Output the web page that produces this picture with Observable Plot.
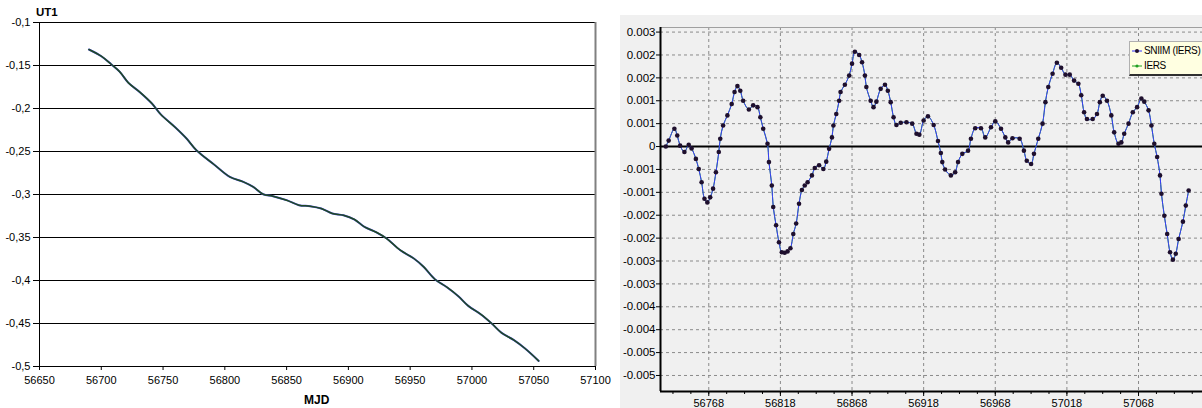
<!DOCTYPE html>
<html><head><meta charset="utf-8">
<script src="https://cdn.jsdelivr.net/npm/d3@7"></script>
<script src="https://cdn.jsdelivr.net/npm/@observablehq/plot@0.6"></script>
<style>
html,body{margin:0;padding:0;background:#fff;}
#wrap{position:relative;width:1202px;height:408px;overflow:hidden;font-family:"Liberation Sans",Arial,sans-serif;}
#left{position:absolute;left:0;top:0;}
#right{position:absolute;left:620px;top:15px;width:700px;height:420px;background:#f0f0f0;}
.lbl{position:absolute;font-weight:bold;color:#000;white-space:nowrap;}
#legend{position:absolute;left:1129px;top:41px;width:120px;height:32px;background:#ffffe1;border-left:1px solid #b0b0b0;border-top:1px solid #b0b0b0;border-bottom:2px solid #303030;font-size:10px;letter-spacing:-0.35px;}
#legend div{position:absolute;left:0;height:14px;line-height:14px;white-space:nowrap;}
#legend svg{vertical-align:middle;}
</style></head>
<body>
<div id="wrap">
  <div id="left"></div>
  <div id="right"></div>
  <div class="lbl" style="left:36px;top:6px;font-size:11.5px;">UT1</div>
  <div class="lbl" style="left:304px;top:393px;font-size:12px;">MJD</div>
  <div id="legend">
    <div style="top:2px;"><svg width="14" height="14"><line x1="2" x2="12" y1="7" y2="7" stroke="#3030ff"/><circle cx="7" cy="7" r="2" fill="#1e0f2d"/></svg>SNIIM (IERS)</div>
    <div style="top:17px;"><svg width="14" height="14"><line x1="2" x2="12" y1="7" y2="7" stroke="#20a020"/><circle cx="7" cy="7" r="1.6" fill="#20a020"/></svg>IERS</div>
  </div>
</div>
<script>
// ---- Left panel: UT1 vs MJD ----
const mjdL = [56690,56700,56708,56715,56722,56731,56741,56748,56760,56769,56777,56791,56804,56815,56823,56831,56839,56850,56860,56869,56878,56887,56896,56905,56913,56923,56931,56942,56953,56961,56970,56980,56989,56997,57007,57016,57024,57034,57043,57054];
const ut1 = [-0.1314,-0.1392,-0.1485,-0.1574,-0.1702,-0.1807,-0.1942,-0.2066,-0.2221,-0.2349,-0.2485,-0.2648,-0.2795,-0.2853,-0.2912,-0.2997,-0.3020,-0.3066,-0.3124,-0.3136,-0.3163,-0.3221,-0.3241,-0.3291,-0.3377,-0.3442,-0.3512,-0.3648,-0.3744,-0.3842,-0.3985,-0.4081,-0.4183,-0.4295,-0.4392,-0.4500,-0.4609,-0.4694,-0.4791,-0.4935];
const xTicksL = [56650,56700,56750,56800,56850,56900,56950,57000,57050,57100];
const yTicksL = [-0.5,-0.45,-0.4,-0.35,-0.3,-0.25,-0.2,-0.15,-0.1];

// ---- Right panel: difference series ----
const mjdR = [56738,56740,56744,56746,56748,56751,56754,56756,56759,56761,56763,56765,56767,56769,56771,56773,56775,56776,56778,56781,56784,56786,56788,56790,56792,56796,56799,56802,56804,56806,56809,56810,56812,56813,56815,56817,56819,56821,56823,56825,56827,56829,56831,56833,56835,56837,56840,56842,56845,56848,56850,56852,56854,56855,56857,56859,56860,56863,56866,56868,56870,56873,56875,56877,56878,56881,56883,56885,56888,56891,56893,56895,56897,56899,56902,56906,56910,56913,56915,56918,56921,56925,56928,56930,56931,56933,56937,56940,56942,56945,56949,56951,56954,56958,56961,56965,56968,56972,56975,56977,56980,56985,56988,56990,56993,56995,56998,57001,57003,57005,57008,57011,57014,57017,57020,57023,57026,57028,57030,57032,57036,57039,57041,57043,57046,57049,57051,57054,57056,57058,57061,57064,57067,57070,57072,57075,57077,57079,57081,57083,57084,57086,57088,57090,57092,57094,57096,57099,57101,57103];
const dR = [0.0000,0.00013,0.00039,0.00024,0.00002,-0.00012,0.00004,-0.00004,-0.00027,-0.00049,-0.00078,-0.00114,-0.00122,-0.00111,-0.00092,-0.00056,-0.00012,0.00017,0.00046,0.00068,0.00093,0.00119,0.00132,0.00122,0.00100,0.00081,0.00090,0.00086,0.00064,0.00039,0.00006,-0.00034,-0.00085,-0.00132,-0.00172,-0.00209,-0.00231,-0.00232,-0.00229,-0.00222,-0.00191,-0.00168,-0.00125,-0.00095,-0.00085,-0.00078,-0.00063,-0.00047,-0.00041,-0.00049,-0.00033,-0.00005,0.00020,0.00046,0.00071,0.00100,0.00119,0.00135,0.00155,0.00181,0.00207,0.00200,0.00184,0.00155,0.00130,0.00100,0.00086,0.00098,0.00126,0.00135,0.00122,0.00097,0.00064,0.00047,0.00052,0.00053,0.00050,0.00028,0.00026,0.00057,0.00066,0.00047,0.00012,-0.00014,-0.00034,-0.00050,-0.00063,-0.00056,-0.00034,-0.00016,-0.00009,0.00017,0.00040,0.00040,0.00020,0.00042,0.00055,0.00039,0.00020,0.00009,0.00018,0.00017,-0.00009,-0.00031,-0.00038,-0.00016,0.00017,0.00050,0.00097,0.00130,0.00159,0.00183,0.00172,0.00157,0.00157,0.00144,0.00137,0.00112,0.00075,0.00060,0.00060,0.00071,0.00097,0.00111,0.00100,0.00068,0.00031,0.00006,0.00009,0.00028,0.00050,0.00075,0.00086,0.00105,0.00098,0.00079,0.00046,0.00006,-0.00023,-0.00063,-0.00103,-0.00151,-0.00191,-0.00231,-0.00247,-0.00234,-0.00202,-0.00164,-0.00129,-0.00096];
const xTicksR = [56768,56818,56868,56918,56968,57018,57068];
const xMinorR = d3.range(56743, 57135, 12.5);
const yTicksR = [0.0025,0.002,0.0015,0.001,0.0005,0,-0.0005,-0.001,-0.0015,-0.002,-0.0025,-0.003,-0.0035,-0.004,-0.0045,-0.005];
const yLabelsR = ["0.003","0.002","0.002","0.001","0.001","0","-0.001","-0.001","-0.002","-0.002","-0.003","-0.003","-0.004","-0.004","-0.005","-0.005"];
const xDomR = [56734.3, 57134.3];
const yDomR = [-0.00535, 0.0026];

const left = mjdL.map((m, i) => ({mjd: m, v: ut1[i]}));
const right = mjdR.map((m, i) => ({mjd: m, v: dR[i]}));

const plotL = Plot.plot({
  width: 620, height: 408,
  marginLeft: 39, marginRight: 25, marginTop: 22, marginBottom: 42,
  style: {background: "white", fontFamily: "'Liberation Sans', Arial, sans-serif", fontSize: "11px", color: "#000", maxWidth: "none"},
  x: {domain: [56650, 57100]},
  y: {domain: [-0.5, -0.1]},
  marks: [
    Plot.gridY(yTicksL, {stroke: "#000", strokeOpacity: 1}),
    Plot.ruleX([57100], {stroke: "#808080", strokeWidth: 2}),
    Plot.ruleX([56650], {stroke: "#000"}),
    Plot.axisY(yTicksL, {tickSize: 6, tickPadding: 3, tickFormat: d => String(d).replace(".", ","), label: null, fontSize: 11}),
    Plot.axisX(xTicksL, {tickSize: 4, tickPadding: 6, tickFormat: d => String(d), label: null, fontSize: 11}),
    Plot.lineY(left, {x: "mjd", y: "v", stroke: "#4a4ad8", strokeWidth: 2, curve: "catmull-rom"}),
    Plot.lineY(left, {x: "mjd", y: "v", stroke: "#1f4a22", strokeWidth: 1.5, curve: "catmull-rom"})
  ]
});
document.getElementById("left").appendChild(plotL);

const plotR = Plot.plot({
  width: 640, height: 420,
  marginLeft: 40, marginRight: 27, marginTop: 12, marginBottom: 44,
  style: {background: "#f0f0f0", fontFamily: "'Liberation Sans', Arial, sans-serif", fontSize: "11px", color: "#000", maxWidth: "none"},
  x: {domain: xDomR},
  y: {domain: yDomR},
  marks: [
    Plot.gridY(yTicksR, {stroke: "#8a8a8a", strokeOpacity: 1, strokeDasharray: "3,3"}),
    Plot.gridX(xTicksR, {stroke: "#8a8a8a", strokeOpacity: 1, strokeDasharray: "3,3"}),
    Plot.ruleY([yDomR[1]], {stroke: "#a0a0a0"}),
    Plot.ruleY([0], {stroke: "#000", strokeWidth: 2}),
    Plot.axisY(yTicksR, {tickSize: 4, tickPadding: 1, tickFormat: d => yLabelsR[yTicksR.indexOf(d)], label: null, fontSize: 11.5}),
    Plot.axisX(xMinorR, {tickSize: 3, tickFormat: () => "", label: null}),
    Plot.axisX(xTicksR, {tickSize: 5, tickPadding: 3, tickFormat: d => String(d), label: null, fontSize: 11}),
    Plot.ruleX([xDomR[0]], {stroke: "#000", strokeWidth: 2}),
    Plot.ruleY([yDomR[0]], {stroke: "#000", strokeWidth: 2}),
    Plot.lineY(right, {x: "mjd", y: "v", stroke: "#20a020", strokeWidth: 1, curve: "catmull-rom"}),
    Plot.lineY(right, {x: "mjd", y: "v", stroke: "#3a3aff", strokeWidth: 1, curve: "catmull-rom"}),
    Plot.dot(right, {x: "mjd", y: "v", r: 2.3, fill: "#1e0f2d", stroke: "none"})
  ]
});
document.getElementById("right").appendChild(plotR);
</script>
</body></html>
